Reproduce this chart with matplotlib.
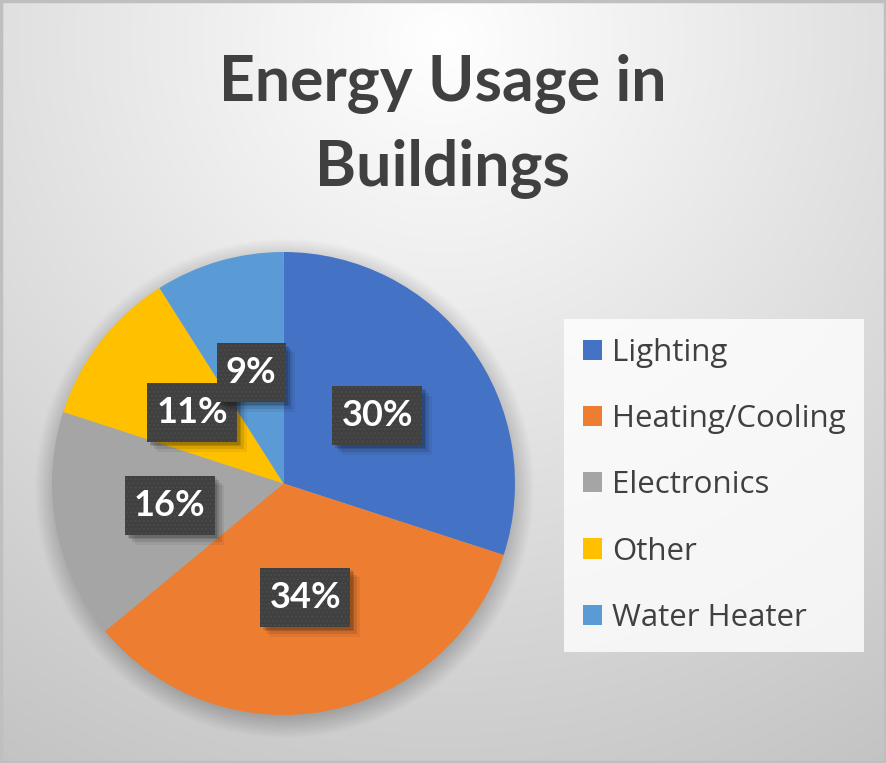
import numpy as np
import matplotlib
matplotlib.use("Agg")
import matplotlib.pyplot as plt
from matplotlib import patheffects as pe
from matplotlib.patches import Circle, Rectangle
from matplotlib.path import Path

categories = ["Lighting", "Heating/Cooling", "Electronics", "Other", "Water Heater"]
shares = [30, 34, 16, 11, 9]
colors = ["#4472C4", "#ED7D31", "#A5A5A5", "#FFC000", "#5B9BD5"]

W, H = 886, 763
plt.rcParams["font.family"] = ["Lato", "DejaVu Sans"]
plt.rcParams["hatch.linewidth"] = 1.0
fig = plt.figure(figsize=(W / 100, H / 100), dpi=100)
ax = fig.add_axes([0, 0, 1, 1])

# radial grey background, bright at the top centre
yy, xx = np.mgrid[0:H, 0:W]
d = np.clip(np.hypot(xx - 443, yy - 40) / 850, 0, 1)
bg = 255 - 60 * d
ax.imshow(np.dstack([bg, bg, bg]).astype(np.uint8), extent=(0, W, 0, H), zorder=0)

cx, cy, r = 283.5, H - 483.5, 231.5

# soft shadow under the pie
for k in range(22):
    ax.add_patch(Circle((cx + 1, cy - 5), r + 18 - k, color="black", alpha=0.008, lw=0, zorder=1))

wedges, _, pcts = ax.pie(shares, colors=colors, startangle=90, counterclock=False,
                         center=(cx, cy), radius=r, autopct="%d%%", pctdistance=0.5,
                         frame=True, wedgeprops=dict(lw=0, zorder=2))


def label_box(x0, y0, width, height, mutation_size):
    # fixed-height box, a bit taller than the text
    padx = 0.25 * mutation_size
    h2 = 0.82 * mutation_size
    yc = y0 + height / 2
    return Path([(x0 - padx, yc - h2), (x0 + width + padx, yc - h2),
                 (x0 + width + padx, yc + h2), (x0 - padx, yc + h2), (x0 - padx, yc - h2)],
                closed=True)


class BoxShadow(pe.AbstractPathEffect):
    def __init__(self, offset, alpha):
        super().__init__(offset)
        self.alpha = alpha

    def draw_path(self, renderer, gc, tpath, affine, rgbFace=None):
        gc0 = renderer.new_gc()
        gc0.copy_properties(gc)
        gc0.set_hatch(None)
        gc0.set_linewidth(0)
        gc0.set_alpha(self.alpha)
        renderer.draw_path(gc0, tpath, affine + self._offset_transform(renderer), (0, 0, 0))
        gc0.restore()


for i, t in enumerate(pcts):
    t.set_fontsize(26)
    t.set_fontweight("bold")
    t.set_color("white")
    t.set_zorder(5 + i)
    t.set_bbox(dict(boxstyle=label_box, facecolor="#404040", edgecolor="#4a4a4a",
                    hatch="....", lw=0))
    t.get_bbox_patch().set_path_effects([
        BoxShadow((7, -7), 0.06), BoxShadow((5, -5), 0.1), BoxShadow((3, -3), 0.14),
        BoxShadow((2, -2), 0.12), pe.Normal()])

ax.text(443, H - 100, "Energy Usage in", ha="center", va="baseline", fontsize=45,
        fontweight="bold", color="#404040")
ax.text(443, H - 185, "Buildings", ha="center", va="baseline", fontsize=45,
        fontweight="bold", color="#404040")

leg = ax.legend(wedges, categories, loc="upper left", bbox_to_anchor=(564 / W, 1 - 319 / H),
                bbox_transform=fig.transFigure, borderaxespad=0, frameon=True, fancybox=False,
                prop={"family": "Open Sans", "size": 22.5},
                handlelength=0.61, handleheight=0.61, handletextpad=0.32,
                labelspacing=1.16, borderpad=0.6, labelcolor="#404040")
leg.get_frame().set_facecolor((1, 1, 1, 0.25))
leg.get_frame().set_edgecolor("none")

ax.add_patch(Rectangle((1, 1), W - 2, H - 2, fill=False, ec="#BFBFBF", lw=2.5, zorder=20))
ax.set_xlim(0, W)
ax.set_ylim(0, H)
ax.set_aspect("auto")
ax.axis("off")

fig.savefig("out.png", dpi=100)
